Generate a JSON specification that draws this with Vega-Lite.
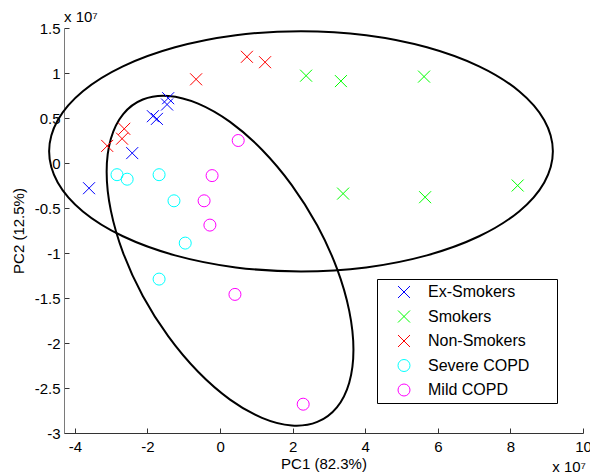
{
  "$schema": "https://vega.github.io/schema/vega-lite/v6.json",
  "width": 519,
  "height": 405,
  "autosize": {"type": "none"},
  "padding": {"left": 64, "top": 28, "right": 7, "bottom": 42},
  "background": "white",
  "config": {
    "view": {"stroke": null},
    "font": "Liberation Sans",
    "axis": {
      "grid": false,
      "domainColor": "#333333",
      "domainWidth": 1,
      "tickColor": "#333333",
      "tickSize": -5,
      "labelColor": "black",
      "labelFontSize": 15,
      "labelFlush": false,
      "labelOverlap": false,
      "titleColor": "black",
      "titleFontSize": 15,
      "titleFontWeight": "normal"
    },
    "legend": {
      "title": null,
      "orient": "none",
      "legendX": 313,
      "legendY": 251,
      "padding": 5,
      "strokeColor": "black",
      "fillColor": "white",
      "labelFontSize": 16,
      "labelColor": "black",
      "symbolStrokeWidth": 1,
      "symbolOffset": 14,
      "labelOffset": 16,
      "rowPadding": 8.5
    }
  },
  "title": {
    "text": "x 10⁷",
    "anchor": "start",
    "frame": "group",
    "fontSize": 15,
    "fontWeight": "normal",
    "color": "black",
    "offset": -4
  },
  "datasets": {
    "scores": [
      {"group": "Ex-Smokers", "pc1": -3.61, "pc2": -0.28},
      {"group": "Ex-Smokers", "pc1": -2.42, "pc2": 0.11},
      {"group": "Ex-Smokers", "pc1": -1.85, "pc2": 0.52},
      {"group": "Ex-Smokers", "pc1": -1.74, "pc2": 0.49},
      {"group": "Ex-Smokers", "pc1": -1.46, "pc2": 0.65},
      {"group": "Ex-Smokers", "pc1": -1.43, "pc2": 0.72},
      {"group": "Smokers", "pc1": 2.37, "pc2": 0.97},
      {"group": "Smokers", "pc1": 3.33, "pc2": 0.91},
      {"group": "Smokers", "pc1": 5.62, "pc2": 0.96},
      {"group": "Smokers", "pc1": 3.39, "pc2": -0.34},
      {"group": "Smokers", "pc1": 5.65, "pc2": -0.38},
      {"group": "Smokers", "pc1": 8.2, "pc2": -0.25},
      {"group": "Non-Smokers", "pc1": -3.11, "pc2": 0.19},
      {"group": "Non-Smokers", "pc1": -2.7, "pc2": 0.27},
      {"group": "Non-Smokers", "pc1": -2.64, "pc2": 0.38},
      {"group": "Non-Smokers", "pc1": -0.66, "pc2": 0.93},
      {"group": "Non-Smokers", "pc1": 0.74, "pc2": 1.18},
      {"group": "Non-Smokers", "pc1": 1.24, "pc2": 1.12},
      {"group": "Severe COPD", "pc1": -2.84, "pc2": -0.13},
      {"group": "Severe COPD", "pc1": -2.56, "pc2": -0.18},
      {"group": "Severe COPD", "pc1": -1.68, "pc2": -0.13},
      {"group": "Severe COPD", "pc1": -1.27, "pc2": -0.42},
      {"group": "Severe COPD", "pc1": -0.96, "pc2": -0.89},
      {"group": "Severe COPD", "pc1": -1.68, "pc2": -1.29},
      {"group": "Mild COPD", "pc1": 0.5, "pc2": 0.25},
      {"group": "Mild COPD", "pc1": -0.22, "pc2": -0.14},
      {"group": "Mild COPD", "pc1": -0.44, "pc2": -0.42},
      {"group": "Mild COPD", "pc1": -0.28, "pc2": -0.69},
      {"group": "Mild COPD", "pc1": 0.41, "pc2": -1.46},
      {"group": "Mild COPD", "pc1": 2.29, "pc2": -2.68}
    ],
    "outlines": [
      {"ellipse": "smoking", "step": 0, "pc1": 9.17, "pc2": 0.13},
      {"ellipse": "smoking", "step": 1, "pc1": 8.933, "pc2": 0.476},
      {"ellipse": "smoking", "step": 2, "pc1": 8.24, "pc2": 0.798},
      {"ellipse": "smoking", "step": 3, "pc1": 7.137, "pc2": 1.074},
      {"ellipse": "smoking", "step": 4, "pc1": 5.7, "pc2": 1.286},
      {"ellipse": "smoking", "step": 5, "pc1": 4.026, "pc2": 1.42},
      {"ellipse": "smoking", "step": 6, "pc1": 2.23, "pc2": 1.465},
      {"ellipse": "smoking", "step": 7, "pc1": 0.434, "pc2": 1.42},
      {"ellipse": "smoking", "step": 8, "pc1": -1.24, "pc2": 1.286},
      {"ellipse": "smoking", "step": 9, "pc1": -2.677, "pc2": 1.074},
      {"ellipse": "smoking", "step": 10, "pc1": -3.78, "pc2": 0.798},
      {"ellipse": "smoking", "step": 11, "pc1": -4.473, "pc2": 0.476},
      {"ellipse": "smoking", "step": 12, "pc1": -4.71, "pc2": 0.13},
      {"ellipse": "smoking", "step": 13, "pc1": -4.473, "pc2": -0.216},
      {"ellipse": "smoking", "step": 14, "pc1": -3.78, "pc2": -0.538},
      {"ellipse": "smoking", "step": 15, "pc1": -2.677, "pc2": -0.814},
      {"ellipse": "smoking", "step": 16, "pc1": -1.24, "pc2": -1.026},
      {"ellipse": "smoking", "step": 17, "pc1": 0.434, "pc2": -1.16},
      {"ellipse": "smoking", "step": 18, "pc1": 2.23, "pc2": -1.205},
      {"ellipse": "smoking", "step": 19, "pc1": 4.026, "pc2": -1.16},
      {"ellipse": "smoking", "step": 20, "pc1": 5.7, "pc2": -1.026},
      {"ellipse": "smoking", "step": 21, "pc1": 7.137, "pc2": -0.814},
      {"ellipse": "smoking", "step": 22, "pc1": 8.24, "pc2": -0.538},
      {"ellipse": "smoking", "step": 23, "pc1": 8.933, "pc2": -0.216},
      {"ellipse": "copd", "step": 0, "pc1": 3.675, "pc2": -2.076},
      {"ellipse": "copd", "step": 1, "pc1": 3.559, "pc2": -1.643},
      {"ellipse": "copd", "step": 2, "pc1": 3.219, "pc2": -1.171},
      {"ellipse": "copd", "step": 3, "pc1": 2.679, "pc2": -0.695},
      {"ellipse": "copd", "step": 4, "pc1": 1.975, "pc2": -0.245},
      {"ellipse": "copd", "step": 5, "pc1": 1.155, "pc2": 0.148},
      {"ellipse": "copd", "step": 6, "pc1": 0.275, "pc2": 0.457},
      {"ellipse": "copd", "step": 7, "pc1": -0.605, "pc2": 0.66},
      {"ellipse": "copd", "step": 8, "pc1": -1.425, "pc2": 0.745},
      {"ellipse": "copd", "step": 9, "pc1": -2.129, "pc2": 0.705},
      {"ellipse": "copd", "step": 10, "pc1": -2.669, "pc2": 0.543},
      {"ellipse": "copd", "step": 11, "pc1": -3.009, "pc2": 0.269},
      {"ellipse": "copd", "step": 12, "pc1": -3.125, "pc2": -0.096},
      {"ellipse": "copd", "step": 13, "pc1": -3.009, "pc2": -0.529},
      {"ellipse": "copd", "step": 14, "pc1": -2.669, "pc2": -1.001},
      {"ellipse": "copd", "step": 15, "pc1": -2.129, "pc2": -1.477},
      {"ellipse": "copd", "step": 16, "pc1": -1.425, "pc2": -1.927},
      {"ellipse": "copd", "step": 17, "pc1": -0.605, "pc2": -2.32},
      {"ellipse": "copd", "step": 18, "pc1": 0.275, "pc2": -2.629},
      {"ellipse": "copd", "step": 19, "pc1": 1.155, "pc2": -2.832},
      {"ellipse": "copd", "step": 20, "pc1": 1.975, "pc2": -2.917},
      {"ellipse": "copd", "step": 21, "pc1": 2.679, "pc2": -2.877},
      {"ellipse": "copd", "step": 22, "pc1": 3.219, "pc2": -2.715},
      {"ellipse": "copd", "step": 23, "pc1": 3.559, "pc2": -2.441}
    ]
  },
  "layer": [
    {
      "data": {"name": "outlines"},
      "mark": {"type": "line", "interpolate": "cardinal-closed", "color": "black", "strokeWidth": 2, "clip": false},
      "encoding": {
        "x": {
          "field": "pc1",
          "type": "quantitative",
          "scale": {"domain": [-4.3, 10], "nice": false, "zero": false},
          "axis": {
            "title": "PC1 (82.3%)",
            "values": [-4, -2, 0, 2, 4, 6, 8, 10],
            "labelExpr": "'' + datum.value",
            "labelPadding": 11,
            "titlePadding": 2
          }
        },
        "y": {
          "field": "pc2",
          "type": "quantitative",
          "scale": {"domain": [-3, 1.5], "nice": false, "zero": false},
          "axis": {
            "title": "PC2 (12.5%)",
            "values": [-3, -2.5, -2, -1.5, -1, -0.5, 0, 0.5, 1, 1.5],
            "labelExpr": "'' + datum.value",
            "labelPadding": 9,
            "titlePadding": 8,
            "domainColor": "#7a7a7a"
          }
        },
        "detail": {"field": "ellipse"},
        "order": {"field": "step", "type": "quantitative"}
      }
    },
    {
      "data": {"name": "scores"},
      "mark": {"type": "point", "filled": false, "strokeWidth": 1, "opacity": 1, "clip": false},
      "encoding": {
        "x": {"field": "pc1", "type": "quantitative"},
        "y": {"field": "pc2", "type": "quantitative"},
        "color": {
          "field": "group",
          "type": "nominal",
          "scale": {
            "domain": ["Ex-Smokers", "Smokers", "Non-Smokers", "Severe COPD", "Mild COPD"],
            "range": ["#0000ff", "#00ff00", "#ff0000", "#00ffff", "#ff00ff"]
          },
          "legend": {"labelExpr": "datum.label + '\u00a0\u00a0\u00a0\u00a0\u00a0\u200b'"}
        },
        "shape": {
          "field": "group",
          "type": "nominal",
          "scale": {
            "domain": ["Ex-Smokers", "Smokers", "Non-Smokers", "Severe COPD", "Mild COPD"],
            "range": ["M-1,-1L1,1M-1,1L1,-1", "M-1,-1L1,1M-1,1L1,-1", "M-1,-1L1,1M-1,1L1,-1", "circle", "circle"]
          },
          "legend": {"labelExpr": "datum.label + '\u00a0\u00a0\u00a0\u00a0\u00a0\u200b'"}
        },
        "size": {
          "field": "group",
          "type": "nominal",
          "scale": {
            "domain": ["Ex-Smokers", "Smokers", "Non-Smokers", "Severe COPD", "Mild COPD"],
            "range": [144, 144, 144, 256, 256]
          },
          "legend": {"labelExpr": "datum.label + '\u00a0\u00a0\u00a0\u00a0\u00a0\u200b'"}
        }
      }
    },
    {
      "data": {"values": [{"note": "x 10⁷"}]},
      "mark": {"type": "text", "align": "right", "baseline": "alphabetic", "fontSize": 15, "color": "black", "dx": 3, "dy": 39, "clip": false},
      "encoding": {
        "x": {"datum": 10},
        "y": {"datum": -3},
        "text": {"field": "note"}
      }
    }
  ]
}
